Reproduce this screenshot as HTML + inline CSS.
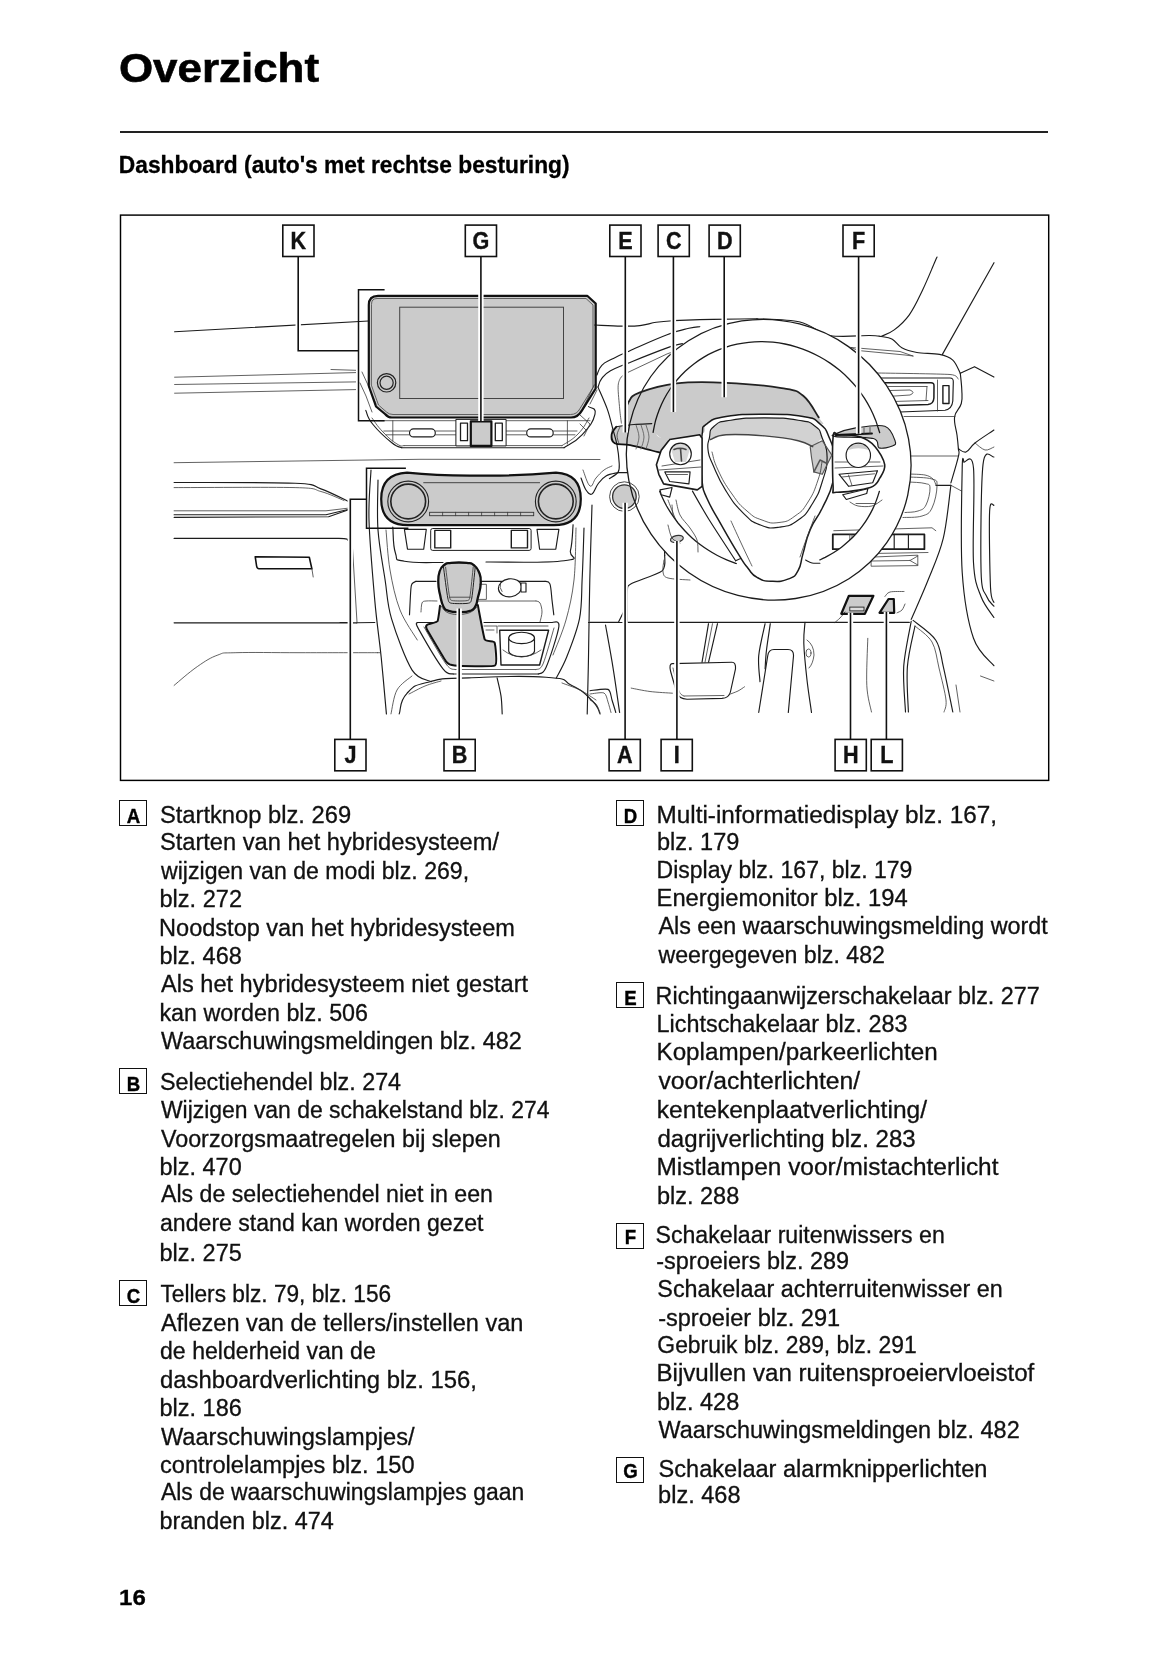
<!DOCTYPE html><html><head><meta charset="utf-8"><title>Overzicht</title><style>
html,body{margin:0;padding:0;background:#fff;}
body{width:1165px;height:1653px;position:relative;overflow:hidden;font-family:"Liberation Sans",sans-serif;color:#111;}
.t{position:absolute;left:0;white-space:nowrap;font-size:23px;line-height:1;transform-origin:0 0;letter-spacing:0;-webkit-text-stroke:0.3px #111;}
.h1{position:absolute;left:0;top:48px;font-size:41px;font-weight:bold;line-height:1;white-space:nowrap;transform-origin:0 0;transform:translateX(118.9px) scaleX(1.071);color:#000;-webkit-text-stroke:0.6px #000;}
.h2{position:absolute;left:0;top:154px;font-size:23px;font-weight:bold;line-height:1;white-space:nowrap;transform-origin:0 0;transform:translateX(118.8px) scaleX(0.99);color:#000;-webkit-text-stroke:0.3px #000;}
.rule{position:absolute;left:120px;top:131.2px;width:928px;height:1.6px;background:#222;}

.pn{position:absolute;left:0;top:1588.3px;font-size:21.5px;font-weight:bold;line-height:1;white-space:nowrap;transform-origin:0 0;transform:translateX(119.1px) scaleX(1.115);color:#000;-webkit-text-stroke:0.3px #000;}
.bx{position:absolute;width:28px;height:26px;box-sizing:border-box;border:1.5px solid #111;font-size:20px;-webkit-text-stroke:0.4px #000;font-weight:bold;line-height:1;text-align:center;color:#000;}
.bx span{position:absolute;left:-1.5px;right:-1.5px;top:5px;transform:scaleX(0.93);}
#fig{position:absolute;left:0;top:0;}
</style></head><body>
<div class="h1">Overzicht</div>
<div class="rule"></div>
<div class="h2">Dashboard (auto's met rechtse besturing)</div>
<svg id="fig" width="1165" height="1653" viewBox="0 0 1165 1653">
<defs>
<style>
.l{fill:none;stroke:#1c1c1c;stroke-width:1.15;stroke-linecap:round;stroke-linejoin:round}
.t{fill:none;stroke:#3a3a3a;stroke-width:0.8;stroke-linecap:round;stroke-linejoin:round}
.b{fill:none;stroke:#111;stroke-width:2;stroke-linecap:round;stroke-linejoin:round}
.g{fill:#c9c9c9;stroke:#1a1a1a;stroke-width:2;stroke-linejoin:round}
.g1{fill:#c9c9c9;stroke:#1a1a1a;stroke-width:1.2;stroke-linejoin:round}
.w{fill:#fff;stroke:#1c1c1c;stroke-width:1.15;stroke-linejoin:round}
.ld{fill:none;stroke:#111;stroke-width:1.6}
.lh{fill:none;stroke:#fff;stroke-width:5.4}
.lb{fill:#fff;stroke:#111;stroke-width:1.6}
.lt{font-family:"Liberation Sans",sans-serif;font-weight:bold;font-size:23.5px;fill:#111;stroke:#111;stroke-width:0.4px;text-anchor:middle}
</style>
</defs>
<!-- frame -->
<rect x="120.5" y="215.1" width="928.2" height="565.3" fill="#fff" stroke="#000" stroke-width="1.45"/>

<path class="l" d="M174.6,331.7 L368.5,321"/>
<path class="t" d="M331,369.5 L355.6,370.3"/>
<path class="t" d="M174.6,377.2 L355.6,372.6"/>
<path class="t" d="M174.6,384.5 L355.6,381.9"/>
<path class="t" d="M174.6,393.2 L355.6,389.6"/>
<path class="t" d="M174.1,462.7 L420,459.3 L600,459.5"/>
<path class="l" d="M174.1,482.5 C194.3,482.6 270.6,482.2 295.1,483.3 C319.6,484.4 311.9,485.8 320.9,488.9 C329.9,492 344.5,499.6 349.2,501.8"/>
<path class="t" d="M174.1,487.6 C194.3,487.6 270.6,487 295.1,487.6 C319.6,488.2 312.8,489.4 320.9,491.5 C329,493.6 340.1,499 344,500.5"/>
<path class="t" d="M174.1,510.8 L326,510.8 L347.9,508.2"/>
<path class="l" d="M174.1,514.7 L326,514.7 L347.9,509.5"/>
<path class="l" d="M174.1,517.3 L328.6,516.7 L347.9,510"/>
<path class="l" d="M174.1,538.4 C185.1,538.4 327.3,538.3 338.9,538.4 C350.5,538.5 347.3,540.3 347.9,540.4"/>
<path class="b" style="stroke-width:1.6" d="M255.2,556.7 L309.3,557.2 L311.9,568.8 L259,568.8 Q257,568.8 256.6,566 Z"/>
<path class="t" d="M311.9,568.8 L313.2,577"/>
<path class="l" d="M174.1,622.8 L356.9,622.8"/>
<path class="t" d="M174.1,685.4 C178.7,681.6 188.5,672.7 197.3,666.6 C206.1,660.5 210.2,657.8 217.9,655 C225.6,652.2 219.5,653.2 235.9,652.7 C252.3,652.2 271.7,652.7 300,652.7 C328.3,652.7 362,652.7 377.5,652.7"/>
<path class="t" d="M362,372 L368,385 L376,404"/>
<path class="t" d="M360,383 L366,396 L372,412"/>
<path class="l" d="M365.8,410.4 C367.7,414.2 366.1,415.9 373,424.5 C379.9,433.1 383.8,436.3 391.5,442.5 C399.2,448.7 399.1,446.3 401.8,447.7"/>
<path class="l" d="M401.8,447.7 L564,447.7"/>
<path class="l" d="M564,447.7 C568.8,444.3 573.7,443.7 582,434.8 C590.3,425.9 593.3,421.7 595,414.2 C596.7,406.7 590.2,408.6 588.5,406.5"/>
<path class="t" d="M372,418 C374.9,421.7 376.3,425.1 383,432 C389.7,438.9 391.4,440.4 397,444 C402.6,447.6 402.1,445.2 404,445.6"/>
<path class="t" d="M404,445.6 L562,445.6"/>
<path class="t" d="M562,445.6 C566.3,442.5 570.8,441.4 578,434 C585.2,426.6 586.1,422.3 589,418"/>
<path class="t" d="M383.8,431 L455.9,431"/>
<path class="t" d="M385.8,434.8 L455.9,434.8"/>
<path class="t" d="M506.1,431 L577,431"/>
<path class="t" d="M506.1,434.8 L575,434.8"/>
<path class="t" d="M392.8,420.7 L392.8,441"/>
<path class="t" d="M567.4,420.7 L567.4,444"/>
<path class="t" d="M376,420.7 L455.9,420.7"/>
<path class="t" d="M506.1,420.7 L590,420.7"/>
<rect class="w" x="409.5" y="428.9" width="25.8" height="8" rx="4"/>
<rect class="w" x="526.7" y="428.9" width="26.5" height="8" rx="4"/>
<rect class="w" x="455.9" y="419.4" width="50.2" height="26.5" style="stroke-width:1"/>
<rect class="w" x="460.5" y="423.2" width="7" height="17.5" style="stroke-width:1.3"/>
<rect class="w" x="495.3" y="423.2" width="7" height="17.5" style="stroke-width:1.3"/>
<path class="w" d="M404.4,529.3 L426.3,529.3 L423.7,549.2 L407.5,549.2Z"/>
<rect class="w" x="430.7" y="528.5" width="100.4" height="21.9" rx="2" style="stroke-width:1"/>
<rect class="w" x="434.8" y="530.4" width="15.9" height="17.5" style="stroke-width:1.4"/>
<rect class="w" x="511.3" y="530.4" width="16.2" height="17.5" style="stroke-width:1.4"/>
<path class="w" d="M537,529.3 L558.9,529.3 L555.8,549.2 L539.6,549.2Z"/>
<path class="l" d="M392.8,527 C393.4,533.1 392.7,545 395.4,553 C398.1,561 393.3,559.1 404.4,561.3 C415.5,563.5 434,562.2 443,562.5"/>
<path class="l" d="M486,562 C504.2,561.7 544.3,563.4 564,560.7 C583.7,558 568.4,558.8 570.5,550.4 C572.6,542 572.5,530.7 573.1,524.7"/>
<path class="l" d="M371,470 C370.7,478.3 368.4,498.2 369,520 C369.6,541.8 372.8,577.7 374.8,600.6 C376.8,623.5 379.3,638.4 381.2,657.3 C383.1,676.2 385.5,704.5 386.4,713.9"/>
<path class="l" d="M378,480 C378,488.3 376.8,513.3 378,530 C379.2,546.7 382.9,565.2 385.1,580 C387.4,594.8 387,603.6 391.5,618.6 C396,633.6 405.5,659.6 412.1,670.1 C418.8,680.6 428.2,679.8 431.4,681.7"/>
<path class="t" d="M386,530 C386.7,536.7 387.7,556.7 390,570 C392.3,583.3 395.4,598.3 400,610 C404.6,621.7 414.4,635 417.3,640"/>
<path class="l" d="M584,528 C583.7,536.7 582.9,564.9 582.1,580 C581.4,595.1 582.1,605.7 579.5,618.6 C576.9,631.5 570.5,647.4 566.6,657.3 C562.7,667.2 558,674.5 556.3,677.9"/>
<path class="l" d="M592,505 C591.6,517.5 590.4,554.6 589.8,580 C589.2,605.4 588.9,635 588.5,657.3 C588.1,679.6 587.4,704.5 587.2,713.9"/>
<path class="t" d="M576,528 C575.7,536.7 575.7,564.7 574,580 C572.3,595.3 569.5,607.5 566,620 C562.5,632.5 555.2,649.2 553,655"/>
<path class="l" d="M340,622.5 L350,622.5"/>
<path class="l" d="M356.9,622.8 L374.8,622.5"/>
<path class="t" d="M377.5,652.7 L380.5,652.7"/>
<path class="l" d="M588.5,622.5 L623.3,622.5"/>
<path class="t" d="M352,540 L357,622"/>
<path class="l" d="M409.5,614.8 C409.7,610.7 410.4,595.1 410.8,590 C411.2,584.9 411.1,585.4 412,583.9 C412.9,582.4 415.3,581.7 416,581.3"/>
<path class="l" d="M416,581.3 L436,581.3"/>
<path class="l" d="M481,581.3 L545,581.3"/>
<path class="l" d="M545,581.3 C545.8,581.7 548.7,580.8 549.9,583.9 C551.1,587 551.4,594.9 552,600 C552.6,605.1 553.5,612.3 553.8,614.8"/>
<path class="t" d="M421,612 C421.2,610.5 421.2,604.8 422,603 C422.8,601.2 423.5,601.3 426,601 C428.5,600.7 435.2,601 437,601"/>
<path class="t" d="M478,601 L536,601"/>
<path class="t" d="M536,601 C536.7,601.3 539,601.2 540,603 C541,604.8 542,608.8 542,612 C542,615.2 540.3,620.3 540,622"/>
<path class="t" d="M480,584.3 L486.4,584.3 L486.4,599.4 L478,599.4"/>
<ellipse class="w" cx="510" cy="587.8" rx="11.6" ry="9" transform="rotate(-8 510 587.8)"/>
<path class="t" d="M500.5,583 Q499,588 502,591.5"/>
<path class="w" d="M521,583 L526,583 L526,592 L521,592Z"/>
<path class="l" d="M417.3,622.5 C417.5,623.6 414.2,621.2 418.5,628.9 C422.8,636.6 437.2,661.4 443,668.9 C448.8,676.4 451.6,673.1 453.3,674"/>
<path class="l" d="M453.3,674 L538.3,674"/>
<path class="l" d="M538.3,674 C539.6,672.9 542.6,675.5 546,667.6 C549.4,659.7 558,633.9 558.9,626.4 C559.8,618.9 552.5,623.1 551.2,622.5"/>
<path class="l" d="M417.3,622.5 L436,622.5"/>
<path class="l" d="M484,622.5 L551.2,622.5"/>
<path class="t" d="M424,627 C427.7,633.2 440.8,656.9 446,664 C451.2,671.1 453.5,668.6 455,669.5"/>
<path class="t" d="M455,669.5 L536,669.5"/>
<path class="t" d="M536,669.5 C537.2,668.6 540,670.9 543,664 C546,657.1 552.2,634 554,628"/>
<path class="w" d="M499.7,630.2 L548.6,630.2 L539.6,665 L501,665Z" style="stroke-width:1.4"/>
<path class="t" d="M484,626 L497,626 L497,633"/>
<path class="t" d="M498,626 L548,626"/>
<path class="t" d="M486,630 L494,630"/>
<path class="w" d="M508.7,637.9 L508.7,651 A12.9,5.7 0 0 0 534.5,651 L534.5,637.9Z"/>
<ellipse class="w" cx="521.6" cy="637.9" rx="12.9" ry="5.7"/>
<path class="t" d="M503,650 Q521,664 541,650"/>
<path class="l" d="M399.2,713.9 C401.3,708.4 398.8,701.9 407,693.3 C415.2,684.7 413.6,685.8 430.1,681.7 C446.6,677.6 437.9,679.1 468.8,677.9 C499.7,676.7 518.5,675.2 546,677.3 C573.5,679.4 559.4,679.3 571.8,685.6 C584.2,691.9 584.9,693.5 592.4,701 C599.9,708.5 598,710.5 600.1,713.9"/>
<path class="l" d="M497.1,677.9 C497.8,680.9 500.1,689.9 501,695.9 C501.9,701.9 502,710.9 502.2,713.9"/>
<path class="t" d="M391,713.9 C392,709.9 393.5,696.3 397,690 C400.5,683.7 409.5,678.3 412,676"/>
<path class="t" d="M409,694 C411.7,692.7 419.7,688.2 425,686 C430.3,683.8 438.3,681.8 441,681"/>
<path class="t" d="M562,683 C565,684.2 574.3,687.2 580,690 C585.7,692.8 593.3,698.3 596,700"/>
<path class="l" d="M590,622.4 L618.3,622.4 L623.5,612.1 L624.8,560 L624.8,530"/>
<path class="l" d="M605.5,625 C606.8,632.3 610.9,654.2 613.2,668.8 C615.6,683.4 618.5,705.2 619.6,712.5"/>
<path class="l" d="M590,690.7 C592.4,690.5 605.1,688.2 608,689.4 C610.9,690.6 611,696.9 612,700 C613,703.1 615.3,710.8 615.8,712.5"/>
<path class="t" d="M590,694 C591.9,693.9 601.6,691.9 604,693 C606.4,694.1 607.1,699.4 608,702 C608.9,704.6 610.6,711.1 611,712.5"/>
<path class="t" d="M590,700 C591,700.7 594.3,701.9 596,704 C597.7,706.1 599.3,711.1 600,712.5"/>
<path class="l" d="M594.7,325 C600,325.2 612.4,326 621.4,326.1 C630.4,326.2 632.9,326.4 639.9,325.6 C646.9,324.8 649.7,323.3 656.2,322.3 C662.7,321.3 663.9,321.2 672.6,320.7 C681.3,320.2 686.3,319.9 699.8,319.6 C713.3,319.3 728.6,319.2 740,319 C751.4,318.8 753.6,318.8 757,318.7"/>
<path class="l" d="M596.9,375.1 C598,372.8 598.1,369.1 601.8,365.3 C605.5,361.5 606.4,362.1 612.7,358.8 C619,355.5 616.3,356.8 629,351.2 C641.7,345.6 653.1,340.1 667.1,334.8 C681.1,329.5 681.3,330.2 688.9,328.3 C696.5,326.4 697.3,327.1 699.8,326.7"/>
<path class="l" d="M598,387.1 C598.9,385.1 598.9,382.2 601.8,378.4 C604.7,374.6 604.4,374.3 610.5,370.8 C616.6,367.3 614.7,368.5 627.9,363.2 C641.1,357.9 654.4,352.5 667.1,347.9 C679.8,343.3 678.8,344.6 682.4,343.6"/>
<path class="t" d="M627.9,372.4 L667.1,353.9 L671.5,352.3"/>
<path class="t" d="M623.6,375.1 C623,375.7 621.2,376.4 620.3,378.4 C619.4,380.4 618.2,382 618.1,387.1 C618,392.2 619.2,402.9 619.7,408.9 C620.2,414.9 621.1,420.7 621.4,423.1"/>
<path class="l" d="M598,387.1 C599.5,390.7 604.8,402 607.2,408.9 C609.7,415.8 611.1,422.5 612.7,428.5 C614.3,434.5 615.9,439 617,444.8 C618.1,450.6 619,458.8 619.2,463.3 C619.4,467.9 619.7,469.6 618.1,472.1 C616.5,474.7 610.9,477.5 609.4,478.6"/>
<path class="l" d="M618.1,472.6 L627.9,472.6"/>
<path class="l" d="M581,478 C582,480.4 583.8,486.8 586,490 C588.2,493.2 589.6,495.2 592,494 C594.4,492.8 595.2,487.6 598,484 C600.8,480.4 602,478.3 606,476 C610,473.7 615.7,473.3 618.1,472.6"/>
<path class="t" d="M583,470 C584.4,473.2 587.4,484.4 590,486 C592.6,487.6 593.2,481.2 596,478 C598.8,474.8 600.8,472.4 604,470 C607.2,467.6 610.4,466.8 612,466"/>
<path class="t" d="M594.2,384.9 L588,398 L583,408"/>
<path class="t" d="M597,390 L590,404"/>
<path class="t" d="M580,415 L590,424 L584,436"/>
<path class="t" d="M580,424 L586,430"/>
<path class="l" d="M937,257 C936.6,258 937.7,255.4 934.8,262 C931.9,268.6 927.6,279.6 922.5,290.2 C917.4,300.8 915,306.9 909.3,314.8 C903.6,322.7 899.9,325.6 894.2,329.9 C888.5,334.2 883.6,335.2 881,336.5"/>
<path class="l" d="M994,262.7 L942.4,354.4"/>
<path class="l" d="M757,318.7 C764.2,319.2 787.8,319.2 800,322 C812.2,324.8 818.4,333.2 830,335.5 C841.6,337.8 861.2,335.3 869.7,335.5 C878.2,335.7 877.2,335.9 881,336.5 C884.8,337.1 888.8,337.4 892.3,339.3 C895.8,341.2 897.7,345.6 901.8,347.8 C905.9,350 910.6,351.4 916.9,352.5 C923.2,353.6 933.5,353.1 939.5,354.4 C945.5,355.7 949.3,357 952.8,360.1 C956.3,363.2 959,371.1 960.3,373.3"/>
<path class="l" d="M960.3,373.3 C960.6,376.6 961.6,384 961.8,390 C962,396 962.7,398.1 961.3,403.5 C959.9,408.9 955.5,410.5 954.6,416.8 C953.7,423.1 956.2,428.6 957,435 C957.8,441.4 958.1,444.6 958.4,448.9 C958.7,453.2 959.9,449.6 958.4,456.4 C956.9,463.2 952.4,477.6 950.9,482.9"/>
<path class="l" d="M960.3,373.3 L974.5,366.7 L993.9,377.1"/>
<path class="t" d="M851,347.5 L900,351.5 L913,356"/>
<path class="t" d="M858,350.5 L905,355 L913,356"/>
<path class="t" d="M851,347.5 L858,350.5"/>
<path class="t" d="M877,373 C884.3,373.1 941.9,373.9 950,374.5 C958.1,375.1 957.2,378.6 958,379"/>
<path class="l" d="M881,378 L950,378 Q953.5,378 953.3,382 L952.8,401 Q952,409 945,410.3 L899.9,412"/>
<path class="l" d="M884.8,382.8 L931,382.8 Q934.2,382.8 934,386 L933.9,398 Q933.5,404 928,404.6 L896.1,405.4" style="stroke-width:1.5"/>
<path class="t" d="M888,386.5 L927,386.5"/>
<path class="t" d="M893,401.5 L928,400.5"/>
<path class="t" d="M890,390.5 L910,390 Q916,392.5 910,395 L892,396.2"/>
<path class="t" d="M927,386.5 L926,400.5"/>
<path class="t" d="M937.5,380 L937.5,411"/>
<rect class="w" x="942.9" y="385.6" width="6.1" height="17.9" style="stroke-width:1.4"/>
<path class="t" d="M904,416.5 L955,416.5"/>
<path class="t" d="M909,456 L958,456"/>
<path class="t" d="M909,474 C911.7,474.2 921,474.2 925,475 C929,475.8 931.2,477.3 933,479 C934.8,480.7 935.5,484.2 936,485.3"/>
<path class="l" d="M958.4,448.9 C959.7,449.4 963.2,453 966,452 C968.8,451 970.4,446.7 975,443 C979.6,439.3 990.8,432.2 993.9,430"/>
<path class="t" d="M975,443 C976.7,444.2 981.9,449.3 985,450 C988.1,450.7 992.4,447.5 993.9,447"/>
<path class="l" d="M950.9,485.3 C949.6,494.1 947.1,522.5 943.3,538.2 C939.5,554 933.6,566.3 928.2,579.8 C922.9,593.3 914,612.8 911.2,619.4"/>
<path class="l" d="M936,485.3 L950.9,485.3"/>
<path class="t" d="M950.9,485.3 L961.5,491"/>
<path class="l" d="M964,462 C963.7,463.1 962.5,449.9 962.2,468.3 C961.9,486.7 960.3,543.9 962.2,572.2 C964.1,600.5 968.2,622.7 973.5,638.3 C978.8,653.9 990.5,661.1 993.9,665.7"/>
<path class="l" d="M964,462 C965.6,463 971.9,451.2 973.5,468 C975.1,484.8 972.2,541.3 973.5,562.8 C974.8,584.3 977.7,587.7 981.1,596.8 C984.5,605.9 991.8,614 993.9,617.5"/>
<path class="l" d="M993.9,457 C992.1,458.3 985.1,445.4 983,464.6 C980.9,483.8 980.5,550.2 981.1,572.2 C981.7,594.2 984.7,591.1 986.8,596.8 C988.9,602.5 992.7,604.6 993.9,606.2"/>
<path class="l" d="M993.9,505.2 C993.2,506.3 990.2,498.1 989.6,511.8 C989,525.5 989.8,572.2 990.5,587.3 C991.2,602.4 993.3,599.9 993.9,602.4"/>
<path class="t" d="M980.5,676 L993.9,681"/>
<path class="l" d="M627.3,622.4 L909.3,622.4"/>
<path class="l" d="M627.3,622.4 C627.3,618.3 626.8,596.6 627.3,591.5 C627.8,586.4 626.6,586.5 631.2,583.8 C635.8,581.1 657.6,574.7 662.1,570.9 C666.6,567.1 664.4,557.6 664.7,555.5"/>
<path class="t" d="M835,622.4 C835.8,621.7 838.3,619.7 840,618 C841.7,616.3 844.2,613 845,612"/>
<path class="t" d="M833.8,530.7 L932,527.8 L935.8,530.7"/>
<rect class="w" x="832.8" y="534.4" width="91.6" height="14.8" style="stroke-width:1.8"/>
<path class="t" d="M849.8,534.4 L849.8,549.2"/>
<path class="t" d="M852,534.4 L852,549.2"/>
<path class="l" d="M894.2,534.4 L894.2,549.2"/>
<path class="l" d="M908.4,534.4 L908.4,549.2"/>
<path class="t" d="M871.5,557.1 L917.8,555.2 L917.8,565.6 L871.5,566.2Z"/>
<path class="t" d="M871.5,561 L910,560.5 L917.8,556"/>
<path class="t" d="M910,560.5 L917.8,565"/>
<path class="t" d="M872,553.5 L928,552.5"/>
<path class="t" d="M909,482 C912.2,482.3 920.8,482.3 925,483.5 C929.2,484.7 929.8,483.7 930,488 C930.2,492.3 928.4,500.4 926,505 C923.6,509.6 922.2,509.5 918,511 C913.8,512.5 907.6,512.2 905,512.5"/>
<path class="t" d="M909,477 C913.6,477.4 926.4,477.2 932,479 C937.6,480.8 937,480.2 937,486 C937,491.8 935,502 932,508 C929,514 927.8,514.1 922,516 C916.2,517.9 906.8,517.2 903,517.5"/>
<path class="l" d="M911.2,621.3 C910,628.8 904.7,651.5 903.7,666.6 C902.8,681.7 905.2,704.4 905.5,712"/>
<path class="l" d="M915,626 C913.7,632.8 908.5,652.3 907.4,666.6 C906.3,680.9 908.2,704.4 908.4,712"/>
<path class="l" d="M913.1,620.4 C916.9,623.7 930.8,632.5 935.8,640.2 C940.8,647.9 940.5,654.6 943.3,666.6 C946.1,678.6 951.2,704.4 952.8,712"/>
<path class="t" d="M915,626 C917.8,628.7 928,635 932,642 C936,649 936.7,658.3 939,668 C941.3,677.7 945.2,692.7 946,700 C946.8,707.3 944.3,710 944,712"/>
<path class="t" d="M956,685 L960,712"/>
<path class="t" d="M867.8,638.3 C867.6,646.2 866.2,673.2 866.8,685.5 C867.4,697.8 870.7,707.6 871.5,712"/>
<path class="l" d="M708.5,623.7 L702,662.3"/>
<path class="l" d="M717.5,623.7 L708.5,662.3"/>
<path class="t" d="M712.5,623.7 L705,662.3"/>
<path class="w" d="M672,663.6 L732,662.3 Q736,662.3 735.5,668.8 L730.4,692 Q729,698 722,698.4 L687,699.2 Q679,699 676.5,692 L670.5,671 Q669,663.8 672,663.6Z"/>
<path class="t" d="M673,668 C674,671.8 677.2,686.3 679,691 C680.8,695.7 683.2,695.2 684,696"/>
<path class="t" d="M684,696 L724,695.5"/>
<path class="t" d="M631.2,688.1 C634.3,688.7 643.1,690.6 650,691.5 C656.9,692.4 668.7,692.9 672.4,693.2"/>
<path class="t" d="M729.1,694.5 C730.6,693.9 735.4,692.3 738,691 C740.6,689.7 743.4,687.5 744.5,686.8"/>
<path class="l" d="M758.7,712.5 L767.7,656 Q768.5,649.5 774,649.5 L788,649.5 Q793.8,649.5 793.5,656 L788.3,712.5"/>
<path class="l" d="M765.1,623.7 C764,629.1 759.6,646.2 758.7,655.9 C757.9,665.5 759.8,677.3 760,681.6"/>
<path class="l" d="M770.3,623.7 C769.7,628.1 767.4,642.5 766.5,650 C765.6,657.5 765.3,665.7 765.1,668.8"/>
<path class="l" d="M805,622.4 C804.8,625.8 803.5,633.4 803.8,643 C804.1,652.6 805.7,668.4 807,680 C808.3,691.6 810.8,707.1 811.5,712.5"/>
<path class="t" d="M807,640 Q814,645 814,655 Q813,664 809,668"/>
<ellipse class="t" cx="808.5" cy="653" rx="2.5" ry="4"/>
<path class="l" d="M658,492 C658.3,496.7 659,511.2 660,520 C661,528.8 663.2,539.1 664,545 C664.8,550.9 664.6,553.8 664.7,555.5"/>
<path class="t" d="M668,500 C669.3,503.3 673.3,514.3 676,520 C678.7,525.7 681.7,529.3 684,534 C686.3,538.7 689,545.7 690,548"/>
<path class="t" d="M672,505 C672.3,509.2 674,522.8 674,530 C674,537.2 672.3,545 672,548"/>
<path class="t" d="M664,560 C663.8,562 662.3,569 663,572 C663.7,575 663.5,576.7 668,578 C672.5,579.3 686.3,579.7 690,580"/>
<path d="M886.6,542.9 A144.3,138.4 35.2 1 0 650.8,376.5 A144.3,138.4 35.2 1 0 886.6,542.9Z M862.3,526.2 A118.1,111.6 36.7 1 0 672.9,385 A118.1,111.6 36.7 1 0 862.3,526.2Z" fill="#fff" fill-rule="evenodd" stroke="none"/>
<path class="l" style="stroke-width:1.3" d="M886.6,542.9 A144.3,138.4 35.2 1 0 650.8,376.5 A144.3,138.4 35.2 1 0 886.6,542.9Z"/>
<path class="" d="M653,421 L703,432 L703,492 L660,492 L655,470Z" fill="#fff" stroke="none"/>
<path class="" d="M832,432 L880,424 L886,470 L878,492 L832,494Z" fill="#fff" stroke="none"/>
<path class="l" d="M653.1,432.4 C653.5,430.4 654.5,424.6 655.5,420.8 C656.6,417 657.8,413.3 659.2,409.7 C660.7,406 662.3,402.5 664.1,399 C665.9,395.6 667.9,392.2 670.1,389 C672.3,385.8 674.6,382.7 677.2,379.7 C679.7,376.7 682.4,373.9 685.2,371.2 C688.1,368.6 691.1,366 694.2,363.7 C697.3,361.3 700.6,359.1 703.9,357.1 C707.3,355.1 710.8,353.3 714.4,351.7 C718,350 721.7,348.6 725.5,347.4 C729.2,346.1 733.1,345.1 737,344.2 C740.9,343.4 744.8,342.7 748.8,342.3 C752.8,341.9 756.8,341.7 760.9,341.6 C764.9,341.6 768.9,341.8 773,342.2 C777,342.6 781,343.2 785,344 C789,344.8 793,345.9 796.9,347.1 C800.8,348.3 804.7,349.7 808.5,351.3 C812.2,352.9 816,354.7 819.6,356.7 C823.2,358.6 826.7,360.8 830.1,363.1 C833.5,365.4 836.8,368 840,370.6 C843.1,373.2 846.1,376.1 849,379 C851.9,381.9 854.6,385 857.2,388.2 C859.7,391.4 862.1,394.8 864.4,398.2 C866.6,401.6 868.6,405.2 870.5,408.8 C872.3,412.4 874,416.2 875.5,419.9 C876.9,423.7 878.6,429.4 879.3,431.5 C880,433.5 879.5,432.3 879.6,432.4" style="stroke-width:1.3"/>
<path class="l" d="M736.3,563.5 C734.7,562.9 729.9,561.2 726.7,559.9 C723.6,558.6 720.5,557.1 717.4,555.5 C714.4,553.9 711.4,552.2 708.5,550.3 C705.6,548.5 702.8,546.5 700.1,544.5 C697.3,542.4 694.7,540.2 692.1,537.9 C689.6,535.6 687.1,533.2 684.8,530.7 C682.4,528.2 680.2,525.6 678,523 C675.9,520.3 673.9,517.5 672,514.7 C670.1,511.9 668.3,508.9 666.6,506 C665,503 663.2,499.3 662.1,496.9 C660.9,494.4 660.1,492.2 659.7,491.3" style="stroke-width:1.3"/>
<path class="l" d="M879.4,491.3 C878.9,492.9 877.5,497.6 876.3,500.6 C875.2,503.7 873.9,506.7 872.4,509.6 C871,512.5 869.4,515.3 867.7,518.1 C866.1,520.9 864.2,523.6 862.3,526.2 C860.4,528.8 858.3,531.3 856.1,533.7 C853.9,536.1 851.7,538.4 849.3,540.6 C846.9,542.8 844.4,545 841.8,546.9 C839.2,548.9 836.5,550.8 833.8,552.5 C831,554.3 827.5,556.1 825.2,557.4 C822.9,558.6 820.8,559.5 819.9,559.9" style="stroke-width:1.3"/>
<path class="l" d="M692.5,491.1 C694.7,495 703.5,510.7 709.3,520 C715.1,529.3 732.2,555.4 735.7,560.8"/>
<path class="l" d="M735.7,560.8 C736.6,560.4 739.6,558.5 741,558.5 C742.4,558.5 743.5,560.6 744,561"/>
<path class="l" d="M819.9,563.2 C818.6,563.2 814.4,563.5 812,563 C809.6,562.5 806.7,560.6 805.6,560.1"/>
<path class="w" d="M702.1,434.7 C703.7,425.7 700.5,428.6 706.9,423.8 C713.3,419 710.7,419.2 726.1,416.6 C741.5,414 744.1,414.2 764.6,414.2 C785.1,414.2 788.3,414 803,416.6 C817.7,419.2 812.8,418 819.9,423.8 C827,429.6 825.7,429.3 829.5,438.3 C833.3,447.3 833.3,446 834.3,457.5 C835.3,469 836.3,468 833.1,481.5 C829.9,495 828.4,495.2 822.3,508 C816.2,520.8 815.3,517.4 810.2,529.6 C805.1,541.8 806.2,542.7 803,553.6 C799.8,564.5 802,563.7 798.2,570.4 C794.4,577.1 795.6,576 788.6,578.9 C781.6,581.8 780.1,581.6 771.8,581.3 C763.5,581 763.8,581.1 757.4,577.6 C751,574.1 752.9,574.4 747.8,568 C742.7,561.6 745.2,565.1 738.1,553.6 C731,542.1 729.6,539.5 721.3,524.8 C713,510.1 712,509.8 706.9,498.3 C701.8,486.8 703.7,492.4 702.1,481.5 C700.5,470.6 700.9,470 700.9,457.5 C700.9,445 700.5,443.7 702.1,434.7Z" style="stroke-width:1.5"/>
<path class="l" d="M709.3,438.3 C710.9,431.9 708.3,431 714.1,426.2 C719.9,421.4 717.4,422.4 730.9,420.2 C744.4,418 746.7,417.8 764.6,417.8 C782.5,417.8 784.7,418 798.2,420.2 C811.7,422.4 808.7,421.4 815.1,426.2 C821.5,431 819.1,430 822.3,438.3 C825.5,446.6 827.1,446 827.1,457.5 C827.1,469 826.1,469.3 822.3,481.5 C818.5,493.7 819.1,492.9 812.7,503.2 C806.3,513.5 807.2,513.6 798.2,520 C789.2,526.4 789.2,525.9 779,527.2 C768.8,528.5 769.4,528.6 759.8,524.8 C750.2,521 752,521.8 743,512.8 C734,503.8 734.1,503.9 726.1,491.1 C718.1,478.3 717.7,475.6 712.9,464.7 C708.1,453.8 709.1,457.3 708.1,450.3 C707.1,443.3 707.7,444.7 709.3,438.3Z"/>
<path class="t" d="M712,452 C713.6,456.8 712.7,458.8 718,470 C723.3,481.2 724.3,483.1 732,494 C739.7,504.9 739,504.1 747,511 C755,517.9 753.5,516.9 762,520 C770.5,523.1 770.2,523.6 779,522.5 C787.8,521.4 787.3,521.5 795,516 C802.7,510.5 801.9,511.6 808,502 C814.1,492.4 814.3,490.7 818,480 C821.7,469.3 820.9,466.8 822,462"/>
<path class="t" d="M731,521 C732.8,525 738.5,537.5 742,545 C745.5,552.5 750.3,562.5 752,566"/>
<path class="t" d="M815,516 C813.5,520 808.5,533.2 806,540 C803.5,546.8 801,554.2 800,557"/>
<path class="w" d="M656.4,464.7 L661.2,450.3 L669.7,439.5 L699.7,434.7 L702.1,438.3 L702.1,486.3 L697.3,489.9 L663.6,483.9 L658.8,474.3Z" style="stroke-width:1.6"/>
<path class="t" d="M662,466 L700,460"/>
<path class="t" d="M659,470 L701,467"/>
<circle class="w" cx="680.5" cy="453.9" r="10.8"/>
<path class="l" style="stroke-width:1.6;stroke:#555" d="M674,449.5 Q680,447 686,449.5 M680.5,448.5 L681.5,461"/>
<path class="l" d="M664.8,471.9 L690.1,471.9 L688.9,483.9 L669.7,481.5Z"/>
<path class="t" d="M667,474.5 L687.5,474.5"/>
<path class="w" d="M660,489.9 L672.1,487.5 L669.7,497.1 L661.2,494.7Z"/>
<path class="w" d="M833.1,437.1 C834.1,428.5 834.5,434.7 839.1,434.7 C843.7,434.7 854.7,435.1 860.7,437.1 C866.7,439.1 871.1,442.1 875.1,446.7 C879.1,451.3 883.9,459.5 884.7,464.7 C885.5,469.9 882.3,474.1 879.9,477.9 C877.5,481.7 877.5,485.1 870.3,487.5 C863.1,489.9 842.9,492.5 836.7,492.3 C830.5,492.1 833.7,495.5 833.1,486.3 C832.5,477.1 832.1,445.7 833.1,437.1Z" style="stroke-width:1.6"/>
<path class="t" d="M835,462 L880,462"/>
<path class="t" d="M835,468 L883,466"/>
<circle class="w" cx="858.3" cy="455.3" r="12.2"/>
<path class="l" d="M839.1,474.3 L877.5,470.7 L872.7,482.7 L848.7,486.3Z"/>
<path class="t" d="M848.5,475 L852,485.5"/>
<path class="t" d="M842,477 L874.5,473.8"/>
<path class="w" d="M842.7,494.7 L867.9,488.7 L866.7,493.5 L846.3,499.5Z"/>
<path class="t" d="M850,502 C851.3,502.7 854.3,505.3 858,506 C861.7,506.7 868,507 872,506 C876,505 880.3,501 882,500"/>
<path class="t" d="M856,503.5 L876,503.5"/>
<path class="t" d="M676,500 C676.7,502.5 677.7,510.3 680,515 C682.3,519.7 687.2,523.8 690,528 C692.8,532.2 695.7,536 697,540 C698.3,544 697.8,550 698,552"/>
<path class="t" d="M668,525 C668.7,527.2 670,535 672,538 C674,541 678.7,542.2 680,543"/>
<g style="mix-blend-mode:multiply">
<path d="M368.8,305 Q368.8,295.8 378,295.8 L587.2,295.8 L595.7,303.5 L595.7,388.5 L582,410.4 Q578,417.5 571,417.5 L392,417.5 Q388,417.5 385,414 L376,406.5 L368.8,386 Z" fill="#cbcbcb" stroke="none"/>
<rect x="470.8" y="421.4" width="20.6" height="24.5" fill="#cbcbcb"/>
<path d="M407,472.7 Q440,476 480,475.5 Q520,476 556,472.7 Q580.8,474 580.8,499 Q580.8,525.2 554,525.2 L408,525.2 Q381.2,525.2 381.2,499 Q381.2,474 407,472.7Z" fill="#cbcbcb"/>
<path class="" d="M440,605.8 L437.5,621.2 L427.2,624.7 L426.7,629 L446.1,661.6 L454.6,665.5 L495,665.5 L494.5,642.3 L484.7,639.3 L477.8,604.9Z" fill="#cbcbcb"/>
<path class="" d="M438.3,582.6 C438.2,576.4 438,576.2 439.6,571.5 C441.2,566.8 441.2,567.3 444.3,565 C447.4,562.7 445.2,563.5 451.2,562.9 C457.2,562.3 460.8,562.3 466.7,562.9 C472.6,563.5 470.3,562.7 473.5,565 C476.7,567.3 476.8,566.8 478.7,571.5 C480.6,576.2 481,575.5 480.8,582.6 C480.6,589.7 479.3,591.7 477.8,598.1 C476.3,604.5 477.3,603.3 475.2,606.7 C473.1,610.1 474.2,609.4 470.1,610.9 C466,612.4 465.5,612.2 459.8,612.2 C454.1,612.2 452.9,612.4 448.6,610.9 C444.3,609.4 445.8,611 443.5,606.7 C441.2,602.4 441.4,601 440,594.6 C438.6,588.2 438.4,588.8 438.3,582.6Z" fill="#cbcbcb"/>
<circle cx="624.4" cy="496.6" r="11.8" fill="#cbcbcb"/>
<path class="" d="M628.6,402 C631.3,398.1 629.8,396.4 639.4,392.7 C649,389 659.2,385.4 676.5,383.4 C693.8,381.4 705,381.9 726,382.8 C747,383.7 766.2,385.5 781.6,388.1 C797,390.7 795.8,389.9 803.2,395.8 C810.6,401.7 814.9,411.8 818.7,417.4 C822.5,423 825.1,424.2 822,424 C818.9,423.8 814.5,418.6 803,416.6 C791.5,414.6 780,414.2 764.6,414.2 C749.2,414.2 737.6,414.7 726.1,416.6 C714.6,418.5 711.9,420.2 706.9,423.8 C701.9,427.4 708.4,431.5 701,434.5 C693.6,437.5 678.6,439 669.7,439 C660.8,439 660.1,437.6 656.5,434.5 C652.9,431.4 657.1,425.4 651.8,423.6 C646.5,421.8 635.2,427.8 630,425.5 C624.8,423.2 626.3,416.7 626,412 C625.7,407.3 625.9,405.9 628.6,402Z" fill="#cbcbcb"/>
<path class="" d="M611.6,434.5 C611.9,431.2 608.3,428.9 616.3,426.7 C624.3,424.5 643.6,421.7 651.8,423.6 C660,425.5 654.3,432.8 657.5,436 C660.7,439.2 667.5,436.2 668,439.5 C668.5,442.8 663.2,450.3 660,452.5 C656.8,454.7 657.8,452 651.8,450.5 C645.8,449 637.6,446.7 630.2,445.2 C622.8,443.7 618.4,445.3 614.7,443.2 C611,441.1 611.3,437.8 611.6,434.5Z" fill="#cbcbcb"/>
<path class="" d="M835.7,433.7 C838.9,432.3 846.4,429.4 854.6,428.1 C862.8,426.9 878,424 884.8,426.2 C891.6,428.4 894,438 895.2,441.3 C896.5,444.6 895,444.9 892.3,446 C889.6,447.1 882.2,449.1 879.1,447.9 C876,446.6 880.6,440.4 873.4,438.5 C866.2,436.6 842,437.4 835.7,436.6 C829.4,435.8 832.6,435.1 835.7,433.7Z" fill="#cbcbcb"/>
<path class="" d="M709.3,438.3 C710,435.6 709.8,429.8 714.1,426.2 C718.4,422.6 720.8,421.9 730.9,420.2 C741,418.5 751.1,417.8 764.6,417.8 C778.1,417.8 788.1,418.5 798.2,420.2 C808.3,421.9 810.3,422.6 815.1,426.2 C819.9,429.8 821.3,435.5 822.3,438.3 C823.3,441.1 821.8,438.3 819.9,440 C818,441.7 817,446.6 812.7,446.7 C808.4,446.8 807.8,442.9 798.2,440.7 C788.6,438.5 779,437.1 764.6,435.9 C750.2,434.7 736.9,434 726.1,434.7 C715.3,435.4 713.9,438.8 710.5,439.5 C707.1,440.2 708.6,441 709.3,438.3Z" fill="#d2d2d2"/>
<path class="" d="M810.2,446.7 L822.3,440.7 L831.9,455.1 L822.3,474.3 L813.9,471.9 L811.5,457.5Z" fill="#cbcbcb"/>
<path d="M671,449 A10.8,10.8 0 0 1 690,449 L686,462 L675,462Z" fill="#d8d8d8"/>
<path d="M848,450 A12.2,12.2 0 0 1 869,450 Q858,446.5 848,450Z" fill="#cbcbcb"/>
<path class="" d="M841.3,613.8 L848.9,595.8 L873.4,595.8 L864.9,613.8Z" fill="#cbcbcb"/>
<path class="" d="M879.5,612.8 L888.5,599 L893.8,599 L894.2,612.8Z" fill="#cbcbcb"/>
<ellipse cx="676.9" cy="538.9" rx="6.5" ry="3.4" fill="#cbcbcb" transform="rotate(-12 676.9 538.9)"/>
</g>
<path class="b" style="stroke-width:2.2" d="M368.8,305 Q368.8,295.8 378,295.8 L587.2,295.8 L595.7,303.5 L595.7,388.5 L582,410.4 Q578,417.5 571,417.5 L392,417.5 Q388,417.5 385,414 L376,406.5 L368.8,386 Z"/>
<path class="t" style="stroke:#444" d="M371.5,304 Q371.5,298.5 377,298.5 L586,298.5 L593,305 L593,387.5 L580,408.5 Q577,414.5 570.5,414.5 L393,414.5 Q389,414.5 386.5,412 L378.5,405 L371.5,385.5Z"/>
<rect x="399.7" y="307.2" width="163.8" height="91.3" fill="none" stroke="#444" stroke-width="1"/>
<circle cx="386.6" cy="382.8" r="9.2" fill="none" stroke="#222" stroke-width="1.2"/><circle cx="386.6" cy="382.8" r="6.6" fill="none" stroke="#222" stroke-width="1.2"/>
<rect class="b" x="470.8" y="421.4" width="20.6" height="24.5" style="stroke-width:2.2"/>
<path class="b" style="stroke-width:2.2" d="M407,472.7 Q440,476 480,475.5 Q520,476 556,472.7 Q580.8,474 580.8,499 Q580.8,525.2 554,525.2 L408,525.2 Q381.2,525.2 381.2,499 Q381.2,474 407,472.7Z"/>
<circle cx="408.2" cy="501.5" r="20.4" fill="none" stroke="#222" stroke-width="1.1"/><circle cx="408.2" cy="501.5" r="17.4" fill="none" stroke="#222" stroke-width="1.6"/>
<circle cx="555.8" cy="501.5" r="20.4" fill="none" stroke="#222" stroke-width="1.1"/><circle cx="555.8" cy="501.5" r="17.4" fill="none" stroke="#222" stroke-width="1.6"/>
<path class="t" d="M423.7,482.7 L539.6,482.7" style="stroke:#222"/>
<rect x="429.6" y="512.3" width="104.1" height="3.4" fill="none" stroke="#333" stroke-width="0.9"/>
<path class="t" d="M442.6,512.3 L442.6,515.7"/>
<path class="t" d="M455.6,512.3 L455.6,515.7"/>
<path class="t" d="M468.6,512.3 L468.6,515.7"/>
<path class="t" d="M481.6,512.3 L481.6,515.7"/>
<path class="t" d="M494.6,512.3 L494.6,515.7"/>
<path class="t" d="M507.6,512.3 L507.6,515.7"/>
<path class="t" d="M520.6,512.3 L520.6,515.7"/>
<path class="b" d="M440,605.8 C439.8,606.8 438.4,619.9 437.5,621.2 C436.6,622.5 427.9,624.2 427.2,624.7 C426.5,625.2 425.4,626.5 426.7,629 C428,631.5 444.2,659.2 446.1,661.6 C448,664 451.3,665.2 454.6,665.5 C457.9,665.8 492.3,667 495,665.5 C497.7,664 495.2,644 494.5,642.3 C493.8,640.6 485.8,641.8 484.7,639.3 C483.6,636.8 478.3,607.2 477.8,604.9" style="stroke-width:2"/>
<path class="b" d="M438.3,582.6 C438.2,576.4 438,576.2 439.6,571.5 C441.2,566.8 441.2,567.3 444.3,565 C447.4,562.7 445.2,563.5 451.2,562.9 C457.2,562.3 460.8,562.3 466.7,562.9 C472.6,563.5 470.3,562.7 473.5,565 C476.7,567.3 476.8,566.8 478.7,571.5 C480.6,576.2 481,575.5 480.8,582.6 C480.6,589.7 479.3,591.7 477.8,598.1 C476.3,604.5 477.3,603.3 475.2,606.7 C473.1,610.1 474.2,609.4 470.1,610.9 C466,612.4 465.5,612.2 459.8,612.2 C454.1,612.2 452.9,612.4 448.6,610.9 C444.3,609.4 445.8,611 443.5,606.7 C441.2,602.4 441.4,601 440,594.6 C438.6,588.2 438.4,588.8 438.3,582.6Z" style="stroke-width:2.3"/>
<path class="t" d="M443.5,567.2 C444,570.8 446.9,593.8 447.8,598 C448.7,602.2 448.8,602.6 451.2,603.2 C453.6,603.8 466,603.8 468.4,603.2 C470.8,602.6 471,602.2 471.8,598 C472.6,593.8 474.8,570.8 475.2,567.2" style="stroke:#222;stroke-width:1"/>
<path class="t" d="M445.6,567.2 C446.1,570.6 448.7,592.6 449.5,596.5 C450.3,600.4 450.5,600.1 452.5,600.6 C454.5,601.1 465,601.1 467,600.6 C469,600.1 469.3,600.4 470,596.5 C470.7,592.6 472.8,570.6 473.2,567.2" style="stroke:#333"/>
<path class="t" d="M449.5,597.2 L470.1,597.2" style="stroke:#333"/>
<path class="t" d="M441,606 C443.1,607.8 443.9,611.8 450,613.5 C456.1,615.2 460.7,615 467,613.5 C473.3,612 474.7,608.5 477,607"/>
<circle cx="624.4" cy="496.6" r="11.8" fill="none" stroke="#333" stroke-width="1.3"/><circle cx="624.4" cy="496.6" r="14.8" fill="none" stroke="#333" stroke-width="0.9"/>
<path class="b" d="M626,412 C626.5,410 625.9,405.9 628.6,402 C631.3,398.1 629.8,396.4 639.4,392.7 C649,389 659.2,385.4 676.5,383.4 C693.8,381.4 705,381.9 726,382.8 C747,383.7 766.2,385.5 781.6,388.1 C797,390.7 795.8,389.9 803.2,395.8 C810.6,401.7 815.6,413.1 818.7,417.4" style="stroke-width:1.8;stroke:#222"/>
<path class="b" d="M616.3,426.7 C615.4,428.3 611.9,431.2 611.6,434.5 C611.3,437.8 611,441.1 614.7,443.2 C618.4,445.3 622.8,443.7 630.2,445.2 C637.6,446.7 645.8,449 651.8,450.5 C657.8,452 658.4,452.1 660,452.5" style="stroke-width:1.8"/>
<path class="l" d="M616.3,426.7 C619.2,426.3 628.1,425 634,424.5 C639.9,424 648.8,423.8 651.8,423.6"/>
<path class="t" d="M620,427 C619.5,428.3 617.2,432.2 617,435 C616.8,437.8 618.7,442.5 619,444"/>
<path class="t" d="M636,425 C636.5,427 639,433 639,437 C639,441 636.5,447 636,449" style="stroke:#555"/>
<path class="t" d="M641,425 C641.5,427 644,433 644,437 C644,441 641.5,447 641,449" style="stroke:#555"/>
<path class="t" d="M646,425 C646.5,427 649,433 649,437 C649,441 646.5,447 646,449" style="stroke:#555"/>
<path class="l" d="M835.7,433.7 C838.9,432.3 846.4,429.4 854.6,428.1 C862.8,426.9 878,424 884.8,426.2 C891.6,428.4 894,438 895.2,441.3 C896.5,444.6 895,444.9 892.3,446 C889.6,447.1 882.2,449.1 879.1,447.9 C876,446.6 880.6,440.4 873.4,438.5 C866.2,436.6 842,437.4 835.7,436.6 C829.4,435.8 832.6,435.1 835.7,433.7Z"/>
<path class="b" d="M835.7,435 L872,433.5" style="stroke-width:1.8"/>
<path class="t" d="M864,428 L864,434"/>
<path class="t" d="M870,427.5 L870,433.5"/>
<path class="l" d="M810.2,446.7 L822.3,440.7 L831.9,455.1 L822.3,474.3 L813.9,471.9 L811.5,457.5Z" style="stroke:#555"/>
<path class="b" d="M813.9,471.9 L820,460 L826,463" style="stroke:#555;stroke-width:1.6"/>
<path class="l" d="M710.5,439.5 C713.6,438.5 715.3,435.4 726.1,434.7 C736.9,434 750.2,434.7 764.6,435.9 C779,437.1 788.6,438.5 798.2,440.7 C807.8,442.9 809.8,445.5 812.7,446.7" style="stroke:#444;stroke-width:1.4"/>
<path class="b" d="M841.3,613.8 L848.9,595.8 L873.4,595.8 L864.9,613.8Z" style="stroke-width:2.2"/>
<rect x="849.8" y="607.1" width="14.2" height="3.8" fill="#ddd" stroke="#222" stroke-width="0.9"/>
<path class="b" d="M879.5,612.8 L888.5,599 L893.8,599 L894.2,612.8Z" style="stroke-width:2.2"/>
<path class="t" d="M885,596.5 C885.8,595.8 886.8,592.8 890,592 C893.2,591.2 901.7,591.6 904,591.5"/>
<path class="t" d="M897,612.8 C897.8,612.3 900.7,611.5 902,610 C903.3,608.5 904.5,605 905,604"/>
<ellipse cx="676.9" cy="538.9" rx="6.5" ry="3.4" fill="none" stroke="#333" stroke-width="1.2" transform="rotate(-12 676.9 538.9)"/>
<path class="lh" d="M298.2,257 L298.2,350.7 L358.5,350.7"/>
<path class="lh" d="M480.9,257 L480.9,421"/>
<path class="lh" d="M625.3,257 L625.3,432.5"/>
<path class="lh" d="M673.4,257 L673.4,412"/>
<path class="lh" d="M724.2,257 L724.2,397.3"/>
<path class="lh" d="M858.6,257 L858.6,433.7"/>
<path class="lh" d="M366.5,499.2 L350.3,499.2 L350.3,739"/>
<path class="lh" d="M459.2,739 L459.2,608.4"/>
<path class="lh" d="M625.1,739 L625.1,502.8"/>
<path class="lh" d="M676.9,739 L676.9,541"/>
<path class="lh" d="M850.5,739 L850.5,612.8"/>
<path class="lh" d="M886.4,739 L886.4,611.9"/>
<path class="ld" d="M384.6,289.8 L358.5,289.8 L358.5,420.7 L384.6,420.7" style="stroke-width:1.5"/>
<path class="ld" d="M405.9,468.3 L366.5,468.3 L366.5,528.3 L408.4,528.3" style="stroke-width:1.5"/>
<path class="ld" d="M298.2,257 L298.2,350.7 L358.5,350.7"/>
<path class="ld" d="M480.9,257 L480.9,421"/>
<path class="ld" d="M625.3,257 L625.3,432.5"/>
<path class="ld" d="M673.4,257 L673.4,412"/>
<path class="ld" d="M724.2,257 L724.2,397.3"/>
<path class="ld" d="M858.6,257 L858.6,433.7"/>
<path class="ld" d="M366.5,499.2 L350.3,499.2 L350.3,739"/>
<path class="ld" d="M459.2,739 L459.2,608.4"/>
<path class="ld" d="M625.1,739 L625.1,502.8"/>
<path class="ld" d="M676.9,739 L676.9,541"/>
<path class="ld" d="M850.5,739 L850.5,612.8"/>
<path class="ld" d="M886.4,739 L886.4,611.9"/>
<rect class="lb" x="282.8" y="225.1" width="31.2" height="31.4" />
<text class="lt" transform="translate(298.4,248.8) scale(0.92,1)">K</text>
<rect class="lb" x="465.3" y="225.1" width="31.2" height="31.4" />
<text class="lt" transform="translate(480.9,248.8) scale(0.92,1)">G</text>
<rect class="lb" x="609.8" y="225.1" width="31.2" height="31.4" />
<text class="lt" transform="translate(625.4,248.8) scale(0.92,1)">E</text>
<rect class="lb" x="658.1" y="225.1" width="31.2" height="31.4" />
<text class="lt" transform="translate(673.7,248.8) scale(0.92,1)">C</text>
<rect class="lb" x="709.1" y="225.1" width="31.2" height="31.4" />
<text class="lt" transform="translate(724.7,248.8) scale(0.92,1)">D</text>
<rect class="lb" x="843" y="225.1" width="31.2" height="31.4" />
<text class="lt" transform="translate(858.6,248.8) scale(0.92,1)">F</text>
<rect class="lb" x="334.8" y="739.4" width="31.2" height="31.4" />
<text class="lt" transform="translate(350.4,763.1) scale(0.92,1)">J</text>
<rect class="lb" x="444" y="739.4" width="31.2" height="31.4" />
<text class="lt" transform="translate(459.6,763.1) scale(0.92,1)">B</text>
<rect class="lb" x="609.1" y="739.4" width="31.2" height="31.4" />
<text class="lt" transform="translate(624.7,763.1) scale(0.92,1)">A</text>
<rect class="lb" x="661.1" y="739.4" width="31.2" height="31.4" />
<text class="lt" transform="translate(676.7,763.1) scale(0.92,1)">I</text>
<rect class="lb" x="835.1" y="739.4" width="31.2" height="31.4" />
<text class="lt" transform="translate(850.7,763.1) scale(0.92,1)">H</text>
<rect class="lb" x="871.2" y="739.4" width="31.2" height="31.4" />
<text class="lt" transform="translate(886.8,763.1) scale(0.92,1)">L</text>
</svg>

<div class="t" style="top:804.4px;transform:translateX(159.92px) scaleX(1.0313)">Startknop blz. 269</div>
<div class="t" style="top:831.4px;transform:translateX(159.93px) scaleX(1.0280)">Starten van het hybridesysteem/</div>
<div class="t" style="top:859.7px;transform:translateX(161.03px) scaleX(1.0039)">wijzigen van de modi blz. 269,</div>
<div class="t" style="top:888.0px;transform:translateX(159.48px) scaleX(1.0242)">blz. 272</div>
<div class="t" style="top:916.6px;transform:translateX(159.07px) scaleX(1.0231)">Noodstop van het hybridesysteem</div>
<div class="t" style="top:945.0px;transform:translateX(159.48px) scaleX(1.0221)">blz. 468</div>
<div class="t" style="top:973.3px;transform:translateX(160.95px) scaleX(1.0256)">Als het hybridesysteem niet gestart</div>
<div class="t" style="top:1001.7px;transform:translateX(159.43px) scaleX(1.0133)">kan worden blz. 506</div>
<div class="t" style="top:1030.2px;transform:translateX(160.90px) scaleX(1.0178)">Waarschuwingsmeldingen blz. 482</div>
<div class="t" style="top:1071.1px;transform:translateX(159.94px) scaleX(1.0139)">Selectiehendel blz. 274</div>
<div class="t" style="top:1099.2px;transform:translateX(160.90px) scaleX(0.9967)">Wijzigen van de schakelstand blz. 274</div>
<div class="t" style="top:1127.5px;transform:translateX(160.90px) scaleX(1.0141)">Voorzorgsmaatregelen bij slepen</div>
<div class="t" style="top:1156.3px;transform:translateX(159.49px) scaleX(1.0208)">blz. 470</div>
<div class="t" style="top:1183.1px;transform:translateX(160.95px) scaleX(1.0062)">Als de selectiehendel niet in een</div>
<div class="t" style="top:1211.8px;transform:translateX(160.02px) scaleX(1.0038)">andere stand kan worden gezet</div>
<div class="t" style="top:1242.3px;transform:translateX(159.49px) scaleX(1.0217)">blz. 275</div>
<div class="t" style="top:1282.9px;transform:translateX(160.49px) scaleX(0.9857)">Tellers blz. 79, blz. 156</div>
<div class="t" style="top:1311.5px;transform:translateX(160.95px) scaleX(1.0235)">Aflezen van de tellers/instellen van</div>
<div class="t" style="top:1340.2px;transform:translateX(160.03px) scaleX(1.0040)">de helderheid van de</div>
<div class="t" style="top:1369.0px;transform:translateX(160.00px) scaleX(1.0369)">dashboardverlichting blz. 156,</div>
<div class="t" style="top:1396.5px;transform:translateX(159.48px) scaleX(1.0223)">blz. 186</div>
<div class="t" style="top:1425.6px;transform:translateX(160.90px) scaleX(1.0266)">Waarschuwingslampjes/</div>
<div class="t" style="top:1453.9px;transform:translateX(160.00px) scaleX(1.0266)">controlelampjes blz. 150</div>
<div class="t" style="top:1481.4px;transform:translateX(160.96px) scaleX(0.9969)">Als de waarschuwingslampjes gaan</div>
<div class="t" style="top:1510.0px;transform:translateX(159.49px) scaleX(1.0166)">branden blz. 474</div>
<div class="t" style="top:804.4px;transform:translateX(656.51px) scaleX(1.0569)">Multi-informatiedisplay blz. 167,</div>
<div class="t" style="top:831.4px;transform:translateX(656.98px) scaleX(1.0220)">blz. 179</div>
<div class="t" style="top:859.4px;transform:translateX(656.61px) scaleX(0.9999)">Display blz. 167, blz. 179</div>
<div class="t" style="top:887.2px;transform:translateX(656.55px) scaleX(1.0335)">Energiemonitor blz. 194</div>
<div class="t" style="top:915.2px;transform:translateX(658.45px) scaleX(1.0151)">Als een waarschuwingsmelding wordt</div>
<div class="t" style="top:943.5px;transform:translateX(658.53px) scaleX(1.0057)">weergegeven blz. 482</div>
<div class="t" style="top:985.2px;transform:translateX(655.58px) scaleX(1.0152)">Richtingaanwijzerschakelaar blz. 277</div>
<div class="t" style="top:1013.3px;transform:translateX(656.58px) scaleX(1.0166)">Lichtschakelaar blz. 283</div>
<div class="t" style="top:1041.0px;transform:translateX(656.52px) scaleX(1.0518)">Koplampen/parkeerlichten</div>
<div class="t" style="top:1070.1px;transform:translateX(658.42px) scaleX(1.0732)">voor/achterlichten/</div>
<div class="t" style="top:1099.2px;transform:translateX(656.85px) scaleX(1.0671)">kentekenplaatverlichting/</div>
<div class="t" style="top:1127.5px;transform:translateX(657.49px) scaleX(1.0463)">dagrijverlichting blz. 283</div>
<div class="t" style="top:1156.3px;transform:translateX(656.50px) scaleX(1.0617)">Mistlampen voor/mistachterlicht</div>
<div class="t" style="top:1185.0px;transform:translateX(656.99px) scaleX(1.0208)">blz. 288</div>
<div class="t" style="top:1224.0px;transform:translateX(655.45px) scaleX(1.0060)">Schakelaar ruitenwissers en</div>
<div class="t" style="top:1250.3px;transform:translateX(656.26px) scaleX(1.0193)">-sproeiers blz. 289</div>
<div class="t" style="top:1278.4px;transform:translateX(657.34px) scaleX(1.0159)">Schakelaar achterruitenwisser en</div>
<div class="t" style="top:1306.7px;transform:translateX(658.15px) scaleX(1.0242)">-sproeier blz. 291</div>
<div class="t" style="top:1334.2px;transform:translateX(657.35px) scaleX(0.9941)">Gebruik blz. 289, blz. 291</div>
<div class="t" style="top:1362.0px;transform:translateX(656.52px) scaleX(1.0478)">Bijvullen van ruitensproeiervloeistof</div>
<div class="t" style="top:1390.8px;transform:translateX(656.99px) scaleX(1.0208)">blz. 428</div>
<div class="t" style="top:1418.7px;transform:translateX(658.40px) scaleX(1.0190)">Waarschuwingsmeldingen blz. 482</div>
<div class="t" style="top:1458.0px;transform:translateX(658.53px) scaleX(1.0247)">Schakelaar alarmknipperlichten</div>
<div class="t" style="top:1483.9px;transform:translateX(658.08px) scaleX(1.0234)">blz. 468</div>
<div class="bx" style="left:119.2px;top:800.2px"><span>A</span></div>
<div class="bx" style="left:119.2px;top:1067.9px"><span>B</span></div>
<div class="bx" style="left:119.2px;top:1280.2px"><span style="top:4.6px">C</span></div>
<div class="bx" style="left:616.2px;top:800.2px"><span>D</span></div>
<div class="bx" style="left:616.2px;top:981.7px"><span>E</span></div>
<div class="bx" style="left:616.2px;top:1223.1px"><span style="top:2.5px">F</span></div>
<div class="bx" style="left:616.2px;top:1457.3px"><span style="top:2.4px">G</span></div>
<div class="pn">16</div>
</body></html>
